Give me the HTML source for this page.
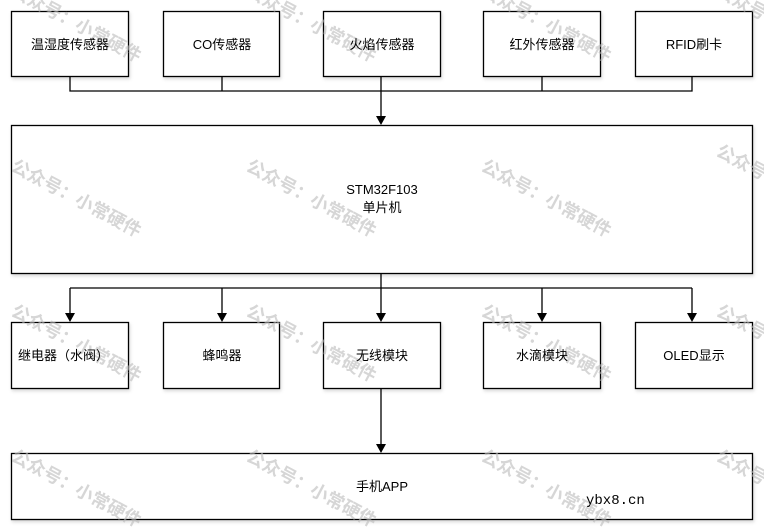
<!DOCTYPE html>
<html><head><meta charset="utf-8"><style>
html,body{margin:0;padding:0;background:#fff;width:764px;height:530px;overflow:hidden}
svg{display:block}
text{font-family:"Liberation Sans","Noto Sans CJK SC",sans-serif;font-size:13px;fill:#000}
.wm{font-size:18px;font-weight:bold;fill:#bbb;fill-opacity:0.6;font-family:"Noto Sans CJK SC",sans-serif}
</style></head><body>
<svg width="764" height="530" viewBox="0 0 764 530">
<defs>
<filter id="s" x="-5%" y="-5%" width="110%" height="115%"><feDropShadow dx="1" dy="2" stdDeviation="1.5" flood-color="#000" flood-opacity="0.15"/></filter></defs>
<g stroke="#000" stroke-width="1.3" fill="#fff" filter="url(#s)">
<rect x="11.5" y="11.5" width="117" height="65"/>
<rect x="163.5" y="11.5" width="116" height="65"/>
<rect x="323.5" y="11.5" width="117" height="65"/>
<rect x="483.5" y="11.5" width="117" height="65"/>
<rect x="635.5" y="11.5" width="117" height="65"/>
<rect x="11.5" y="125.5" width="741" height="148"/>
<rect x="11.5" y="322.5" width="117" height="66"/>
<rect x="163.5" y="322.5" width="116" height="66"/>
<rect x="323.5" y="322.5" width="117" height="66"/>
<rect x="483.5" y="322.5" width="117" height="66"/>
<rect x="635.5" y="322.5" width="117" height="66"/>
<rect x="11.5" y="453.5" width="741" height="66"/>
</g>
<g stroke="#000" stroke-width="1.3" fill="none">
<path d="M70,77V91H692V77M222,77V91M542,77V91"/>
<path d="M381,77V116"/>
<path d="M381,274V288M70,288H692"/>
<path d="M70,288V313M222,288V313M381,288V313M542,288V313M692,288V313"/>
<path d="M381,389V444"/>
</g>
<g fill="#000">
<polygon points="376,116 386,116 381,125"/>
<polygon points="65,313 75,313 70,322"/>
<polygon points="217,313 227,313 222,322"/>
<polygon points="376,313 386,313 381,322"/>
<polygon points="537,313 547,313 542,322"/>
<polygon points="687,313 697,313 692,322"/>
<polygon points="376,444 386,444 381,453"/>
</g>
<g class="wmg">
<text class="wm" transform="translate(10,-5) rotate(28)">公众号：小常硬件</text>
<text class="wm" transform="translate(245,-5) rotate(28)">公众号：小常硬件</text>
<text class="wm" transform="translate(480,-5) rotate(28)">公众号：小常硬件</text>
<text class="wm" transform="translate(715,-5) rotate(28)">公众号：小常硬件</text>
<text class="wm" transform="translate(10,170) rotate(28)">公众号：小常硬件</text>
<text class="wm" transform="translate(245,170) rotate(28)">公众号：小常硬件</text>
<text class="wm" transform="translate(480,170) rotate(28)">公众号：小常硬件</text>
<text class="wm" transform="translate(715,155) rotate(28)">公众号：小常硬件</text>
<text class="wm" transform="translate(10,315) rotate(28)">公众号：小常硬件</text>
<text class="wm" transform="translate(245,315) rotate(28)">公众号：小常硬件</text>
<text class="wm" transform="translate(480,315) rotate(28)">公众号：小常硬件</text>
<text class="wm" transform="translate(715,315) rotate(28)">公众号：小常硬件</text>
<text class="wm" transform="translate(10,460) rotate(28)">公众号：小常硬件</text>
<text class="wm" transform="translate(245,460) rotate(28)">公众号：小常硬件</text>
<text class="wm" transform="translate(480,460) rotate(28)">公众号：小常硬件</text>
<text class="wm" transform="translate(715,460) rotate(28)">公众号：小常硬件</text>
</g>
<g>
<text x="70" y="49" text-anchor="middle">温湿度传感器</text>
<text x="222" y="49" text-anchor="middle">CO传感器</text>
<text x="382" y="49" text-anchor="middle">火焰传感器</text>
<text x="542" y="49" text-anchor="middle">红外传感器</text>
<text x="694" y="49" text-anchor="middle">RFID刷卡</text>
<text x="382" y="194" text-anchor="middle">STM32F103</text>
<text x="382" y="212" text-anchor="middle">单片机</text>
<text x="18" y="360">继电器（水阀）</text>
<text x="222" y="360" text-anchor="middle">蜂鸣器</text>
<text x="382" y="360" text-anchor="middle">无线模块</text>
<text x="542" y="360" text-anchor="middle">水滴模块</text>
<text x="694" y="360" text-anchor="middle">OLED显示</text>
<text x="382" y="491" text-anchor="middle">手机APP</text>
<text x="586" y="504" style="font-family:'Liberation Mono',monospace;font-size:14px">ybx8.cn</text>
</g>
</svg>
</body></html>
